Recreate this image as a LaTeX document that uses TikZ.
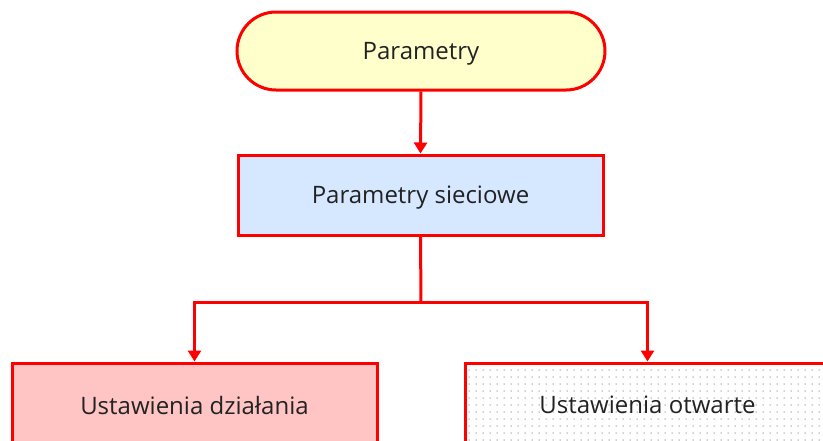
\documentclass[tikz,border=0pt]{standalone}
\usepackage{fontspec}
\setmainfont{Open Sans}
\usetikzlibrary{arrows.meta,patterns.meta}
\definecolor{startyellow}{HTML}{FFFFCC}
\definecolor{netblue}{HTML}{D6E8FF}
\definecolor{runpink}{HTML}{FFC4C4}
\definecolor{linered}{HTML}{FF0000}
\definecolor{textgray}{HTML}{222222}
\tikzdeclarepattern{
  name=sparsedots,
  type=uncolored,
  bounding box={(-1pt,-1pt) and (1pt,1pt)},
  tile size={(7pt,7pt)},
  code={\fill (0,0) circle (0.75pt);}
}
\begin{document}
\begin{tikzpicture}[x=1pt, y=-1pt,
  font=\fontsize{24}{28}\selectfont,
  box/.style={draw=linered, line width=3pt, rectangle, minimum width=365pt,
    minimum height=80pt, text=textgray, text depth=0pt},
  conn/.style={draw=linered, line width=3pt, -{Triangle[width=13pt,length=11pt]}},
  plain/.style={draw=linered, line width=3pt}]
\useasboundingbox (0,0) rectangle (823,440);
\clip (0,0) rectangle (823,440);

% Start box
\node[box, rounded corners=39pt, minimum width=368pt, minimum height=78pt, fill=startyellow] (start) at (421,51) {Parametry};

% Network parameters
\node[box, fill=netblue] (net) at (420.5,195) {Parametry sieciowe};

% Bottom boxes
\node[box, fill=runpink, minimum height=84pt] (run) at (194.5,405) {Ustawienia działania};
\node[box, pattern=sparsedots, pattern color=gray!75, minimum height=84pt] (open) at (647.5,405) {};
\node[text=textgray, text depth=0pt] (opentext) at (open.center) {Ustawienia otwarte};

% Arrows
\coordinate (split) at (421,302);
\draw[conn] (start.south) -- (net.north);
\draw[plain] (net.south) -- (split);
\draw[conn] (split) -| (run.north);
\draw[conn] (split) -| (open.north);
\end{tikzpicture}
\end{document}
